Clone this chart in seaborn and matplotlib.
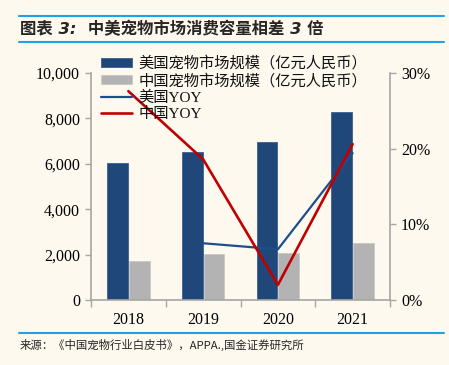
import numpy as np
import pandas as pd
import matplotlib
matplotlib.use("Agg")
import matplotlib.pyplot as plt
import seaborn as sns
from matplotlib.ticker import FuncFormatter, FixedLocator
from matplotlib.lines import Line2D

# ---- data ----
years = ["2018", "2019", "2020", "2021"]
us_market = [6050, 6530, 6960, 8290]
cn_market = [1708, 2024, 2065, 2490]
us_yoy = [np.nan, 7.5, 6.7, 19.4]
cn_yoy = [27.6, 18.6, 2.0, 20.6]

lbl_us_bar = "美国宠物市场规模（亿元人民币）"
lbl_cn_bar = "中国宠物市场规模（亿元人民币）"
lbl_us_yoy = "美国YOY"
lbl_cn_yoy = "中国YOY"
title = "图表 3:  中美宠物市场消费容量相差 3 倍"
source = "来源：《中国宠物行业白皮书》，APPA.,国金证券研究所"

sns.set_theme(style="white")
CJK = ["Liberation Serif", "Noto Sans CJK SC", "DejaVu Sans"]
plt.rcParams["font.family"] = CJK

BG = "#FDF9EF"
C_US = "#1F477A"
C_CN = "#B3B3B3"
C_RED = "#C00000"
C_BLUE = "#1F4E8C"
C_SPINE = "#A6A6A6"
C_RULE = "#1AA3E8"

fig = plt.figure(figsize=(4.49, 3.65), dpi=100, facecolor=BG)
ax = fig.add_axes([91/449, 1-300/365, (390-91)/449, (300-73)/365])
ax.set_facecolor(BG)

df = pd.DataFrame({
    "year": years * 2,
    "value": us_market + cn_market,
    "series": [lbl_us_bar] * 4 + [lbl_cn_bar] * 4,
})
sns.barplot(data=df, x="year", y="value", hue="series",
            palette=[C_US, C_CN], width=0.58, gap=0.05,
            ax=ax, saturation=1)
for i, p in enumerate(ax.patches):
    fc = p.get_facecolor()
    if abs(fc[0] - 0.70) < 0.05:
        p.set_edgecolor("#C8C8C8")
    else:
        p.set_edgecolor("#3A5F8F")
    p.set_linewidth(0.6)
bar_handles, bar_labels = ax.get_legend_handles_labels()
if ax.get_legend():
    ax.get_legend().remove()

ax.set_xlim(-0.5, 3.5)
ax.set_ylim(0, 10000)
ax.set_yticks([0, 2000, 4000, 6000, 8000, 10000])
ax.yaxis.set_major_formatter(FuncFormatter(lambda v, p: f"{v:,.0f}"))
ax.set_xlabel("")
ax.set_ylabel("")

ax2 = ax.twinx()
xpos = np.arange(len(years))
sns.lineplot(x=xpos, y=us_yoy, color=C_BLUE, linewidth=1.6, ax=ax2, label=lbl_us_yoy)
sns.lineplot(x=xpos, y=cn_yoy, color=C_RED, linewidth=1.9, ax=ax2, label=lbl_cn_yoy)
if ax2.get_legend():
    ax2.get_legend().remove()
ax2.set_ylim(0, 30)
ax2.set_yticks([0, 10, 20, 30])
ax2.yaxis.set_major_formatter(FuncFormatter(lambda v, p: f"{v:.0f}%"))
ax2.set_xlim(-0.5, 3.5)
ax2.set_facecolor("none")
ax2.set_ylabel("")

for a in (ax, ax2):
    a.spines["top"].set_visible(False)
    for s in ("left", "right", "bottom"):
        a.spines[s].set_color(C_SPINE)
        a.spines[s].set_linewidth(1.2)
    a.tick_params(axis="both", labelsize=11.5, labelcolor="#000000",
                  length=4, width=1, pad=4, color=C_SPINE)
ax.spines["right"].set_visible(False)
ax2.spines["left"].set_visible(False)
ax2.spines["bottom"].set_visible(False)

ax.xaxis.set_minor_locator(FixedLocator([-0.5, 0.5, 1.5, 2.5, 3.5]))
ax.tick_params(axis="x", which="major", length=0, pad=9)
ax.tick_params(axis="x", which="minor", length=5, width=1, color=C_SPINE, direction="out", bottom=True)
ax.tick_params(axis="y", left=True, direction="out")
ax2.tick_params(axis="y", right=True, direction="out")
for t in ax.get_xticklabels() + ax.get_yticklabels() + ax2.get_yticklabels():
    t.set_fontfamily(["Liberation Serif"])

handles = list(bar_handles) + [
    Line2D([0], [0], color=C_BLUE, lw=1.6),
    Line2D([0], [0], color=C_RED, lw=1.9),
]
labels = [lbl_us_bar, lbl_cn_bar, lbl_us_yoy, lbl_cn_yoy]
leg = fig.legend(handles, labels, loc="upper left",
                 bbox_to_anchor=(101/449, 1-56/365), bbox_transform=fig.transFigure,
                 frameon=False, handlelength=2.0, handleheight=0.5,
                 handletextpad=0.45, labelspacing=0.16, borderpad=0, borderaxespad=0,
                 prop={"family": ["Liberation Serif", "Noto Sans CJK SC"], "size": 11})
for t in leg.get_texts():
    t.set_color("#111111")

# title & rules
fig.add_artist(Line2D([19/449, 444/449], [1-16/365]*2, color=C_RULE, lw=1.5))
fig.add_artist(Line2D([19/449, 444/449], [1-41.5/365]*2, color=C_RULE, lw=1.5))
fig.add_artist(Line2D([19/449, 444/449], [1-333/365]*2, color=C_RULE, lw=1.5))
fig.text(20/449, 1-29/365, title, fontsize=11.8, fontweight="bold", fontstyle="italic",
         family=["DejaVu Sans", "Noto Sans CJK SC"], va="center", ha="left")
fig.text(20/449, 1-345/365, source, fontsize=8.2,
         family=["Noto Sans CJK SC", "DejaVu Sans"], va="center", ha="left")

fig.savefig("out.png", dpi=100, facecolor=BG)
